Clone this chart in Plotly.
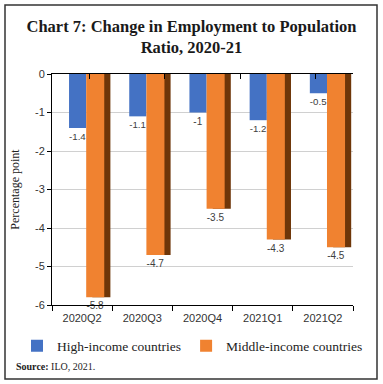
import plotly.graph_objects as go

categories = ["2020Q2", "2020Q3", "2020Q4", "2021Q1", "2021Q2"]
high_income = [-1.4, -1.1, -1.0, -1.2, -0.5]
middle_income = [-5.8, -4.7, -3.5, -4.3, -4.5]
high_labels = ["-1.4", "-1.1", "-1", "-1.2", "-0.5"]
middle_labels = ["-5.8", "-4.7", "-3.5", "-4.3", "-4.5"]
y_ticks = [0, -1, -2, -3, -4, -5, -6]

BLUE = "#4472C4"
ORANGE = "#F08230"
ORANGE_SIDE = "#6E3609"
serif = "Liberation Serif"
sans = "Liberation Sans"

fig = go.Figure()
# darker side face of the orange bars (pseudo-3D look)
fig.add_trace(go.Bar(
    x=categories, y=middle_income, name="side", showlegend=False, hoverinfo="skip",
    marker=dict(color=ORANGE_SIDE, line=dict(width=0)),
    offset=0.17, width=0.3,
))
fig.add_trace(go.Bar(
    x=categories, y=high_income, name="High-income countries",
    marker=dict(color=BLUE, line=dict(width=0)),
    offset=-0.217, width=0.285,
    text=high_labels, textposition="outside",
    textfont=dict(family=sans, size=10, color="#404040"),
    cliponaxis=False,
))
fig.add_trace(go.Bar(
    x=categories, y=middle_income, name="Middle-income countries",
    marker=dict(color=ORANGE, line=dict(width=0)),
    offset=0.068, width=0.3,
    text=middle_labels, textposition="outside",
    textfont=dict(family=sans, size=10, color="#404040"),
    cliponaxis=False,
))
# invisible helper trace so the top (zero-line) axis with tick marks is drawn
fig.add_trace(go.Scatter(
    x=categories, y=[0] * len(categories), xaxis="x2", mode="none",
    showlegend=False, hoverinfo="skip",
))

W, H = 383, 384
L, R, T, B = 52, 30, 74, 79
pw, ph = W - L - R, H - T - B

def px(x):
    return (x - L) / pw

def py(y):
    return (H - B - y) / ph

fig.update_layout(
    width=W, height=H,
    margin=dict(l=L, r=R, t=T, b=B),
    paper_bgcolor="white", plot_bgcolor="white",
    barmode="overlay",
    title=dict(
        text="<b>Chart 7: Change in Employment to Population<br>Ratio, 2020-21</b>",
        x=0.5, xanchor="center", y=1 - 32 / H, yanchor="middle",
        font=dict(family=serif, size=16.5, color="#1a1a1a"),
    ),
    xaxis=dict(
        type="category", categoryarray=categories,
        showline=True, linecolor="black", linewidth=1,
        ticks="outside", tickson="boundaries", ticklen=5, tickcolor="black",
        ticklabelstandoff=3,
        tickfont=dict(family=sans, size=11, color="#333333"),
        showgrid=False, zeroline=False,
    ),
    xaxis2=dict(
        type="category", categoryarray=categories, overlaying="x", side="top",
        anchor="y",
        showline=True, linecolor="black", linewidth=1,
        ticks="inside", tickson="boundaries", ticklen=5, tickcolor="black",
        showticklabels=False, showgrid=False, zeroline=False,
    ),
    yaxis=dict(
        range=[-6, 0], tickvals=y_ticks, ticktext=[str(v) for v in y_ticks],
        showline=True, linecolor="black", linewidth=1,
        ticks="outside", ticklen=4, tickcolor="black",
        tickfont=dict(family=sans, size=11, color="#333333"),
        showgrid=True, gridcolor="#d0d0d0", gridwidth=1,
        zeroline=False,
        title=dict(text="Percentage point", font=dict(family=serif, size=12, color="#222222"), standoff=12),
    ),
    legend=dict(
        orientation="h",
        x=px(17), xanchor="left", y=py(346), yanchor="middle",
        font=dict(family=serif, size=13.5, color="#222222"),
        itemwidth=30, tracegroupgap=0, bgcolor="rgba(0,0,0,0)",
    ),
    showlegend=True,
    shapes=[dict(
        type="rect", xref="paper", yref="paper",
        x0=px(5), x1=px(377), y0=py(379), y1=py(5),
        line=dict(color="#333333", width=1.5), fillcolor="rgba(0,0,0,0)",
        layer="below",
    )],
    annotations=[dict(
        text="<b>Source:</b> ILO, 2021.", xref="paper", yref="paper",
        x=px(14), y=py(366), xanchor="left", yanchor="middle", showarrow=False,
        font=dict(family=serif, size=10, color="#222222"),
    )],
)

fig.write_html("out.html", config={"displayModeBar": False},
               post_script="document.body.style.margin='0';")
